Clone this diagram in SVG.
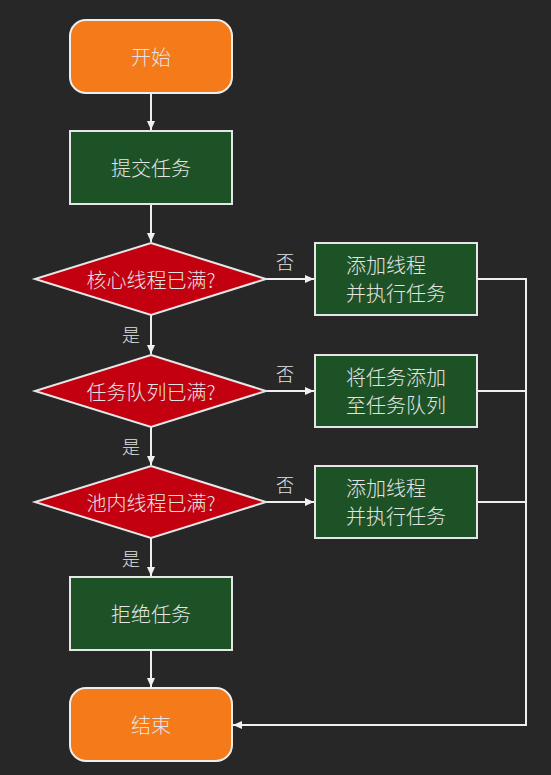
<svg xmlns="http://www.w3.org/2000/svg" width="551" height="775" viewBox="0 0 551 775">
<defs>
<marker id="ah" markerWidth="10" markerHeight="10" refX="9" refY="5" orient="auto" markerUnits="userSpaceOnUse">
<path d="M0,1 L9,5 L0,9 Z" fill="#f0f0f0"/>
</marker>
<style>
.term{fill:#f47a1a;stroke:#eeeeee;stroke-width:2}
.proc{fill:#1d5227;stroke:#e6e6e6;stroke-width:2}
.dec{fill:#c20010;stroke:#e6e6e6;stroke-width:2}
.t{font-family:"Noto Sans CJK SC","Noto Sans",sans-serif;font-size:20px;font-weight:300;fill:#e4e4e4}
.tc{text-anchor:middle;dominant-baseline:central}
.lbl{font-family:"Noto Sans CJK SC","Noto Sans",sans-serif;font-size:18px;font-weight:300;fill:#e2e2e2;text-anchor:middle;dominant-baseline:central}
.c{fill:none;stroke:#eeeeee;stroke-width:2}
</style>
</defs>
<rect width="551" height="775" fill="#272727"/>
<g id="connectors">
<line class="c" x1="151" y1="93" x2="151" y2="130" marker-end="url(#ah)"/>
<line class="c" x1="151" y1="204" x2="151" y2="242" marker-end="url(#ah)"/>
<line class="c" x1="151" y1="315" x2="151" y2="354" marker-end="url(#ah)"/>
<line class="c" x1="151" y1="427" x2="151" y2="465" marker-end="url(#ah)"/>
<line class="c" x1="151" y1="538" x2="151" y2="576" marker-end="url(#ah)"/>
<line class="c" x1="151" y1="650" x2="151" y2="687" marker-end="url(#ah)"/>
<line class="c" x1="266" y1="279" x2="314" y2="279" marker-end="url(#ah)"/>
<line class="c" x1="266" y1="391" x2="314" y2="391" marker-end="url(#ah)"/>
<line class="c" x1="266" y1="502" x2="314" y2="502" marker-end="url(#ah)"/>
<polyline class="c" points="477,279 526,279 526,725 233,725" marker-end="url(#ah)"/>
<line class="c" x1="477" y1="391" x2="526" y2="391"/>
<line class="c" x1="477" y1="502" x2="526" y2="502"/>
<text class="lbl" x="285" y="261">否</text>
<text class="lbl" x="285" y="373">否</text>
<text class="lbl" x="285" y="484">否</text>
<text class="lbl" x="131" y="334">是</text>
<text class="lbl" x="131" y="446">是</text>
<text class="lbl" x="131" y="558">是</text>
</g>
<g id="start">
<rect class="term" x="70" y="20" width="162" height="73" rx="16"/>
<text class="t tc" x="151" y="56">开始</text>
</g>
<g id="submit">
<rect class="proc" x="70" y="131" width="162" height="73"/>
<text class="t tc" x="151" y="167">提交任务</text>
</g>
<g id="d1">
<polygon class="dec" points="151,243 266,279 151,315 35,279"/>
<text class="t tc" x="151" y="279">核心线程已满?</text>
</g>
<g id="b1">
<rect class="proc" x="315" y="243" width="162" height="72"/>
<text class="t" x="346" y="273">添加线程</text>
<text class="t" x="346" y="301">并执行任务</text>
</g>
<g id="d2">
<polygon class="dec" points="151,355 266,391 151,427 35,391"/>
<text class="t tc" x="151" y="391">任务队列已满?</text>
</g>
<g id="b2">
<rect class="proc" x="315" y="355" width="162" height="72"/>
<text class="t" x="346" y="385">将任务添加</text>
<text class="t" x="346" y="413">至任务队列</text>
</g>
<g id="d3">
<polygon class="dec" points="151,466 266,502 151,538 35,502"/>
<text class="t tc" x="151" y="502">池内线程已满?</text>
</g>
<g id="b3">
<rect class="proc" x="315" y="466" width="162" height="72"/>
<text class="t" x="346" y="496">添加线程</text>
<text class="t" x="346" y="524">并执行任务</text>
</g>
<g id="reject">
<rect class="proc" x="70" y="577" width="162" height="73"/>
<text class="t tc" x="151" y="613">拒绝任务</text>
</g>
<g id="end">
<rect class="term" x="70" y="688" width="162" height="73" rx="16"/>
<text class="t tc" x="151" y="724">结束</text>
</g>
</svg>
